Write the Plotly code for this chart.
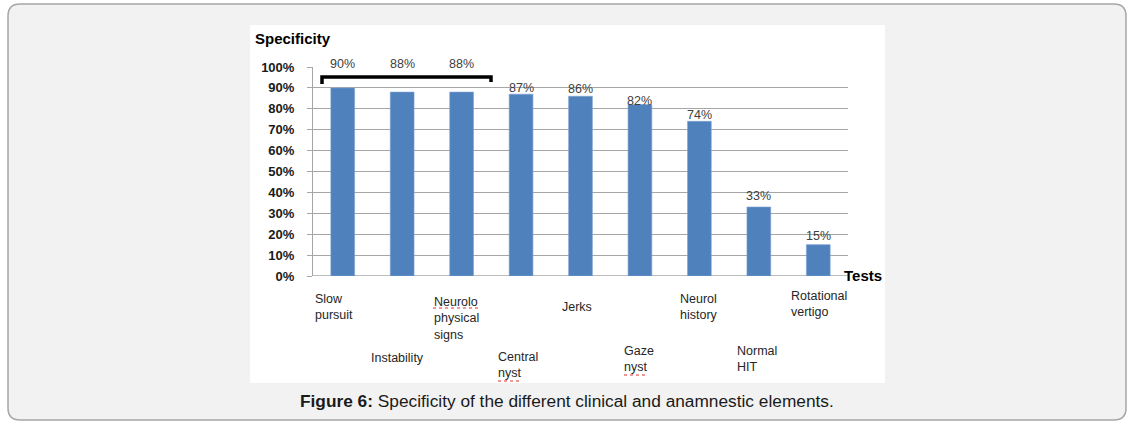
import plotly.graph_objects as go

categories = ["Slow pursuit", "Instability", "Neurolo physical signs", "Central nyst",
              "Jerks", "Gaze nyst", "Neurol history", "Normal HIT", "Rotational vertigo"]
tick_text = ["Slow<br>pursuit", "Instability", "Neurolo<br>physical<br>signs", "Central<br>nyst",
             "Jerks", "Gaze<br>nyst", "Neurol<br>history", "Normal<br>HIT", "Rotational<br>vertigo"]
specificity = [90, 88, 88, 87, 86, 82, 74, 33, 15]
value_labels = ["90%", "88%", "88%", "87%", "86%", "82%", "74%", "33%", "15%"]
y_ticks = [0, 10, 20, 30, 40, 50, 60, 70, 80, 90, 100]
y_tick_text = [f"{v}%" for v in y_ticks]

W, H = 1139, 426
L, R, T, B = 313, 848, 67, 276  # plot area in px


def px(xp):
    return (xp - L) / (R - L)


def py(yp):
    return (B - yp) / (B - T)


FONT = "Liberation Sans, Arial, sans-serif"

fig = go.Figure()
fig.add_trace(go.Bar(
    x=list(range(len(categories))), y=specificity, width=0.4,
    marker=dict(color="#4f81bd", line=dict(color="#7ea3d3", width=0.6)),
    hovertext=categories, showlegend=False,
))

shapes = []
# outer rounded frame
x0, y0, x1, y1, r = 8, 4, 1126, 420, 12
path = (f"M {px(x0+r)},{py(y0)} L {px(x1-r)},{py(y0)} Q {px(x1)},{py(y0)} {px(x1)},{py(y0+r)} "
        f"L {px(x1)},{py(y1-r)} Q {px(x1)},{py(y1)} {px(x1-r)},{py(y1)} "
        f"L {px(x0+r)},{py(y1)} Q {px(x0)},{py(y1)} {px(x0)},{py(y1-r)} "
        f"L {px(x0)},{py(y0+r)} Q {px(x0)},{py(y0)} {px(x0+r)},{py(y0)} Z")
shapes.append(dict(type="path", xref="paper", yref="paper", path=path,
                   fillcolor="#f2f2f2", line=dict(color="#a6a6a6", width=1.5), layer="below"))
# white image area
shapes.append(dict(type="rect", xref="paper", yref="paper", x0=px(250), x1=px(885),
                   y0=py(383), y1=py(25), fillcolor="white", line=dict(width=0), layer="below"))
# bracket
shapes.append(dict(type="path", xref="paper", yref="paper",
                   path=f"M {px(322)},{py(84)} L {px(322)},{py(77)} L {px(491)},{py(77)} L {px(491)},{py(82)}",
                   line=dict(color="black", width=3.5)))
# spell-check squiggles
for (a, b, yy) in [(433, 478, 308), (498, 522, 381), (624, 648, 375)]:
    shapes.append(dict(type="line", xref="paper", yref="paper", x0=px(a), x1=px(b),
                       y0=py(yy), y1=py(yy), line=dict(color="#e03030", width=1.2, dash="dot")))

annotations = []
# value labels
label_y = [None, None, None, 1, 2, -1, 1, 6, 4]
for i, (v, t) in enumerate(zip(specificity, value_labels)):
    if i < 3:
        annotations.append(dict(x=i, y=py(64), xref="x", yref="paper", text=t, showarrow=False,
                                font=dict(size=12.5, color="#404040", family=FONT), yanchor="middle"))
    else:
        annotations.append(dict(x=i, y=v, xref="x", yref="y", text=t, showarrow=False,
                                yanchor="bottom", yshift=label_y[i] - 4,
                                font=dict(size=12.5, color="#404040", family=FONT)))
# category labels (staggered)
cat_top = [290, 349, 293, 348, 298, 342, 290, 342, 287]
cat_left = [313, 369, 432, 496, 560, 622, 678, 735, 789]
for i, t in enumerate(tick_text):
    annotations.append(dict(x=px(cat_left[i]), y=py(cat_top[i]), xref="paper", yref="paper",
                            text=t, showarrow=False, xanchor="left", yanchor="top", align="left",
                            font=dict(size=12.5, color="#262626", family=FONT)))
annotations.append(dict(x=px(253), y=py(38), xref="paper", yref="paper", text="<b>Specificity</b>",
                        showarrow=False, xanchor="left", yanchor="middle",
                        font=dict(size=15, color="black", family=FONT)))
annotations.append(dict(x=px(842), y=py(275), xref="paper", yref="paper", text="<b>Tests</b>",
                        showarrow=False, xanchor="left", yanchor="middle",
                        font=dict(size=15, color="black", family=FONT)))
annotations.append(dict(x=px(567), y=py(401), xref="paper", yref="paper",
                        text="<b>Figure 6:</b> Specificity of the different clinical and anamnestic elements.",
                        showarrow=False, xanchor="center", yanchor="middle",
                        font=dict(size=17.3, color="#1a1a1a", family=FONT)))

fig.update_layout(
    width=W, height=H, margin=dict(l=L, r=W - R, t=T, b=H - B, pad=0),
    paper_bgcolor="white", plot_bgcolor="rgba(0,0,0,0)",
    bargap=0.6, shapes=shapes, annotations=annotations,
    xaxis=dict(range=[-0.5, len(categories) - 0.5], showticklabels=False, showgrid=False,
               zeroline=False, showline=False, fixedrange=True),
    yaxis=dict(range=[0, 100], tickvals=y_ticks, ticktext=[f"<b>{t}</b>" for t in y_tick_text],
               showgrid=True, gridcolor="#a6a6a6", gridwidth=1, zeroline=False,
               showline=True, linecolor="#a6a6a6", linewidth=1,
               ticks="outside", ticklen=5, tickcolor="#a6a6a6", ticklabelstandoff=10,
               tickfont=dict(size=13, color="#1a1a1a", family=FONT)),
)
fig.add_shape(type="line", xref="paper", yref="y", x0=0, x1=1, y0=0, y1=0,
              line=dict(color="#a6a6a6", width=1.5), layer="below")

fig.write_html("out.html")
